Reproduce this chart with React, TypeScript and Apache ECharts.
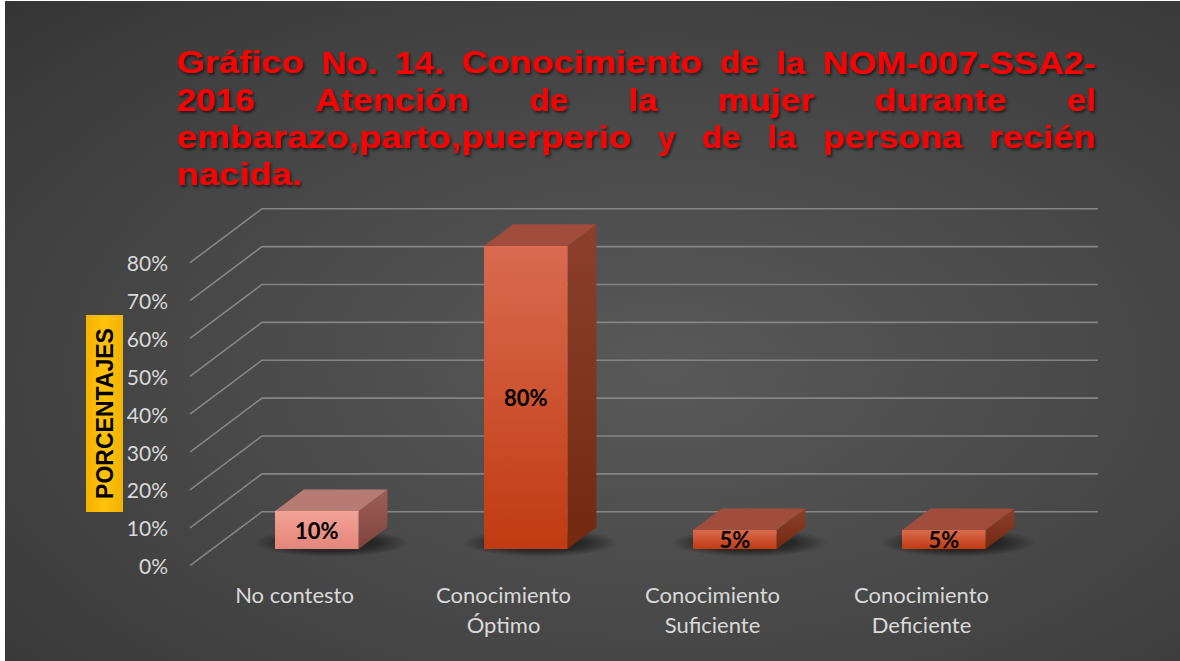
import React, { useEffect, useRef } from 'react';
import * as echarts from 'echarts';

// ---------- data ----------
const categories = ['No contesto', 'Conocimiento\nÓptimo', 'Conocimiento\nSuficiente', 'Conocimiento\nDeficiente'];
const percentages = [10, 80, 5, 5];
const yTicks = [0, 10, 20, 30, 40, 50, 60, 70, 80];
const titleLines = [
  'Gráfico No. 14. Conocimiento de la NOM-007-SSA2-',
  '2016 Atención de la mujer durante el',
  'embarazo,parto,puerperio y de la persona recién',
  'nacida.',
];
const axisName = 'PORCENTAJES';

// ---------- styles ----------
const pinkBar = { front: ['#F3A398', '#E4857A'], top: '#B77B73', side: ['#9C5F57', '#7E443C'] };
const orangeBar = { front: ['#D96B50', '#C13A11'], top: '#A04D3D', side: ['#8C402C', '#722910'] };
const barPalette = [pinkBar, orangeBar, orangeBar, orangeBar];
const DEPTH = [72, -54];
const FRONT_OFF = 0.31;
const BAR_DEPTH = 0.4;
const BAR_W = 0.4;

export default function App() {
  const ref = useRef<HTMLDivElement>(null);
  useEffect(() => {
    if (!ref.current) return;
    const chart = echarts.init(ref.current, null, { renderer: 'svg' });

    // Title layout (justified, emulated letter spacing)
    const TS = 30.5;
    const LS = 3.4;
    const font = `bold ${TS}px "Liberation Sans", Arial, sans-serif`;
    const canvas = document.createElement('canvas');
    const ctx = canvas.getContext('2d') as CanvasRenderingContext2D;
    ctx.font = font;
    const L = 177, R = 1096, Y0 = 63, LH = 37.3;
    const titleEls: any[] = [];
    titleLines.forEach((line, li) => {
      const words = line.split(' ');
      const nat = words.map((w) => ctx.measureText(w).width);
      const tw = words.map((w, i) => nat[i] + LS * (w.length - 1));
      const total = tw.reduce((a, b) => a + b, 0);
      const justify = li < titleLines.length - 1 && words.length > 1;
      const gap = justify ? (R - L - total) / (words.length - 1) : ctx.measureText(' ').width + 2 * LS;
      let x = L;
      words.forEach((w, i) => {
        titleEls.push({
          type: 'text',
          x,
          y: Y0 + li * LH,
          scaleX: tw[i] / nat[i],
          z: 10,
          style: {
            text: w,
            font,
            fill: '#FF0000',
            align: 'left',
            verticalAlign: 'middle',
            textShadowColor: 'rgba(0,0,0,0.6)',
            textShadowBlur: 3,
            textShadowOffsetX: 1.5,
            textShadowOffsetY: 2,
          },
        });
        x += tw[i] + gap;
      });
    });

    const option: any = {
      animation: false,
      backgroundColor: '#ffffff',
      grid: { left: 190, right: 154, top: 262.7, bottom: 95.3, containLabel: false },
      xAxis: {
        type: 'category',
        data: categories,
        axisLine: { show: false },
        axisTick: { show: false },
        splitLine: { show: false },
        axisLabel: {
          color: '#D9D9D9',
          fontSize: 22,
          fontFamily: 'Lato, "Open Sans", sans-serif',
          lineHeight: 30,
          margin: 14,
          interval: 0,
        },
      },
      yAxis: {
        type: 'value',
        min: 0,
        max: 80,
        interval: 10,
        axisLine: { show: false },
        axisTick: { show: false },
        splitLine: { show: false },
        axisLabel: {
          formatter: '{value}%',
          color: '#D9D9D9',
          fontSize: 21,
          fontFamily: 'Lato, "Open Sans", sans-serif',
          margin: 22,
        },
      },
      graphic: [
        {
          type: 'rect',
          z: -100,
          silent: true,
          shape: { x: 5, y: 1, width: 1175, height: 660 },
          style: {
            fill: new echarts.graphic.RadialGradient(0.56, 0.56, 1.1, [
              { offset: 0, color: '#595959' },
              { offset: 0.55, color: '#3f3f3f' },
              { offset: 1, color: '#242424' },
            ]),
          },
        },
        {
          type: 'rect',
          z: 10,
          shape: { x: 86, y: 315, width: 37, height: 197 },
          style: {
            fill: new echarts.graphic.LinearGradient(0, 0, 1, 0, [
              { offset: 0, color: '#F2B300' },
              { offset: 0.5, color: '#FFC20A' },
              { offset: 1, color: '#F2B300' },
            ]),
          },
        },
        {
          type: 'text',
          z: 11,
          x: 105,
          y: 413.5,
          rotation: Math.PI / 2,
          style: {
            text: axisName,
            font: 'bold 23px "Liberation Sans", Arial, sans-serif',
            fill: '#000000',
            align: 'center',
            verticalAlign: 'middle',
          },
        },
        ...titleEls,
      ],
      series: [
        {
          type: 'custom',
          silent: true,
          z: 1,
          data: yTicks.map((v) => [0, v]),
          renderItem: (params: any, api: any) => {
            const cs = params.coordSys;
            const p = api.coord([0, api.value(1)]);
            const y = p[1];
            const x0 = cs.x;
            const x1 = cs.x + cs.width;
            return {
              type: 'polyline',
              shape: {
                points: [
                  [x0, y],
                  [x0 + DEPTH[0], y + DEPTH[1]],
                  [x1 + DEPTH[0], y + DEPTH[1]],
                ],
              },
              style: { stroke: '#858585', lineWidth: 1.6, fill: null },
            };
          },
        },
        {
          type: 'custom',
          silent: true,
          z: 3,
          data: percentages.map((v, i) => [i, v]),
          renderItem: (params: any, api: any) => {
            const i = api.value(0);
            const v = api.value(1);
            const base = api.coord([i, 0]);
            const topP = api.coord([i, v]);
            const band = api.size([1, 0])[0];
            const bw = band * BAR_W;
            const fx = DEPTH[0] * FRONT_OFF, fy = DEPTH[1] * FRONT_OFF;
            const dx = DEPTH[0] * BAR_DEPTH, dy = DEPTH[1] * BAR_DEPTH;
            const Lx = base[0] - bw / 2 + fx;
            const Rx = base[0] + bw / 2 + fx;
            const B = base[1] + fy;
            const T = topP[1] + fy;
            const pal = barPalette[i];
            const cx = (Lx + Rx + dx) / 2;
            return {
              type: 'group',
              children: [
                {
                  type: 'ellipse',
                  shape: { cx, cy: B - 6, rx: (bw + dx) / 2 + 22, ry: 14 },
                  style: {
                    fill: new echarts.graphic.RadialGradient(0.5, 0.5, 0.5, [
                      { offset: 0, color: 'rgba(0,0,0,0.75)' },
                      { offset: 0.6, color: 'rgba(0,0,0,0.45)' },
                      { offset: 1, color: 'rgba(0,0,0,0)' },
                    ]),
                  },
                },
                {
                  type: 'polygon',
                  shape: { points: [[Rx, T], [Rx + dx, T + dy], [Rx + dx, B + dy], [Rx, B]] },
                  style: {
                    fill: new echarts.graphic.LinearGradient(0, 0, 0, 1, [
                      { offset: 0, color: pal.side[0] },
                      { offset: 1, color: pal.side[1] },
                    ]),
                  },
                },
                {
                  type: 'polygon',
                  shape: { points: [[Lx, T], [Rx, T], [Rx + dx, T + dy], [Lx + dx, T + dy]] },
                  style: { fill: pal.top },
                },
                {
                  type: 'rect',
                  shape: { x: Lx, y: T, width: bw, height: B - T },
                  style: {
                    fill: new echarts.graphic.LinearGradient(0, 0, 0, 1, [
                      { offset: 0, color: pal.front[0] },
                      { offset: 1, color: pal.front[1] },
                    ]),
                  },
                },
                {
                  type: 'text',
                  style: {
                    text: `${v}%`,
                    x: (Lx + Rx) / 2,
                    y: (T + B) / 2,
                    align: 'center',
                    verticalAlign: 'middle',
                    font: 'bold 22px Lato, "Open Sans", sans-serif',
                    fill: '#000000',
                  },
                },
              ],
            };
          },
        },
      ],
    };
    chart.setOption(option);
    return () => chart.dispose();
  }, []);
  return (
    <div
      ref={ref}
      style={{ position: 'fixed', left: 0, top: 0, width: 1180, height: 661 }}
    />
  );
}
